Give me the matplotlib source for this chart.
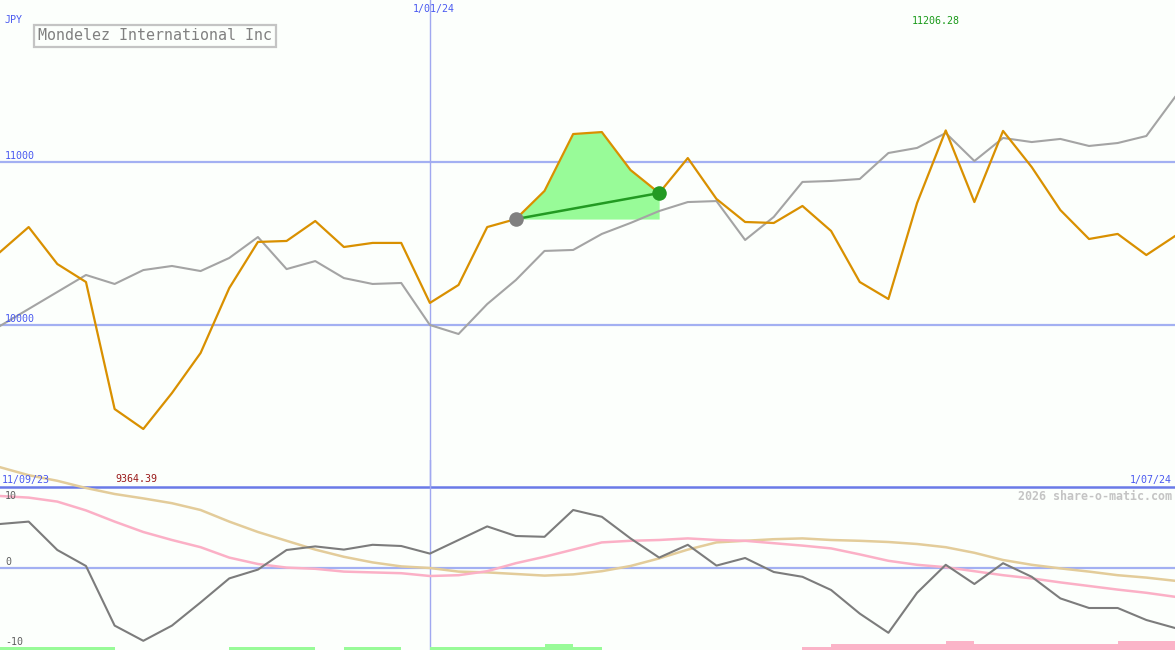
import matplotlib
matplotlib.use("Agg")
import matplotlib.pyplot as plt
import numpy as np

# ---------------- data ----------------
title = "Mondelez International Inc"
currency = "JPY"
start_label = "11/09/23"
mid_label = "1/01/24"
end_label = "1/07/24"
max_label = "11206.28"
min_label = "9364.39"
credit = "2026 share-o-matic.com"

price = [10446, 10599, 10373, 10263, 9486, 9364, 9584, 9829, 10226, 10508,
         10514, 10636, 10477, 10502, 10502, 10135, 10245, 10599, 10648, 10820,
         11168, 11180, 10948, 10807, 11021, 10771, 10630, 10624, 10728, 10575,
         10263, 10159, 10746, 11190, 10752, 11187, 10966, 10703, 10526, 10557,
         10428, 10544]

compare = [9994, 10098, 10202, 10306, 10251, 10336, 10361, 10330, 10410, 10538,
           10342, 10391, 10287, 10251, 10257, 10000, 9945, 10128, 10275, 10453,
           10459, 10557, 10624, 10697, 10752, 10758, 10520, 10661, 10875, 10881,
           10893, 11052, 11083, 11174, 11003, 11144, 11119, 11138, 11095, 11113,
           11156, 11394]

momentum = [5.5, 5.8, 2.25, 0.25, -7.2, -9.1, -7.2, -4.3, -1.3, -0.2,
            2.25, 2.7, 2.3, 2.9, 2.75, 1.8, 3.5, 5.2, 4.0, 3.9,
            7.25, 6.4, 3.7, 1.3, 2.9, 0.3, 1.25, -0.5, -1.1, -2.75,
            -5.7, -8.1, -3.1, 0.4, -2.0, 0.6, -1.1, -3.8, -5.0, -5.0,
            -6.5, -7.5]

signal_fast = [9.0, 8.8, 8.3, 7.2, 5.8, 4.5, 3.5, 2.6, 1.3, 0.5,
               0.05, -0.1, -0.45, -0.55, -0.65, -1.0, -0.9, -0.4, 0.6, 1.4,
               2.3, 3.2, 3.4, 3.5, 3.7, 3.5, 3.4, 3.1, 2.8, 2.45,
               1.7, 0.9, 0.4, 0.1, -0.4, -0.9, -1.3, -1.8, -2.25, -2.7,
               -3.1, -3.6]

signal_slow = [12.6, 11.6, 10.9, 10.0, 9.25, 8.7, 8.1, 7.25, 5.8, 4.5,
               3.4, 2.3, 1.4, 0.7, 0.2, 0.0, -0.45, -0.55, -0.75, -0.95,
               -0.8, -0.4, 0.25, 1.2, 2.3, 3.2, 3.4, 3.6, 3.7, 3.5,
               3.4, 3.25, 3.0, 2.6, 1.9, 1.0, 0.4, -0.05, -0.45, -0.9,
               -1.2, -1.6]

# trend strength bars (+ green, - pink), one per interval
trend = [1, 1, 1, 1, 0, 0, 0, 0, 1, 1,
         1, 0, 1, 1, 0, 1, 1, 1, 1, 2,
         1, 0, 0, 0, 0, 0, 0, 0, -1, -2,
         -2, -2, -2, -3, -2, -2, -2, -2, -2, -3,
         -3]

grid_levels = [10000, 11000]
osc_labels = ["10", "0", "-10"]
mid_index = 15
hl_start, hl_end = 18, 23

# ---------------- styling ----------------
W, H = 1175, 650
bg = "#fcfffc"
blue_txt = "#4a5af0"
grid_c = "#a3b0f2"
vline_c = "#a0a8f0"
fig = plt.figure(figsize=(W / 100, H / 100), dpi=100, facecolor=bg)

def fx(px):
    return px / W

def fy(py):
    return 1 - py / H

n = len(price)
x = np.arange(n)

# main panel: pixel rows 0..487
ax = fig.add_axes([0, fy(487), 1, 487 / H])
ax.set_facecolor(bg)
ax.set_xlim(0, n - 1)
ppu = 163.5 / 1000.0  # pixels per yen
ax.set_ylim(10000 - (487 - 325) / ppu, 10000 + 325 / ppu)
for s in ax.spines.values():
    s.set_visible(False)
ax.set_xticks([])
ax.set_yticks([])

for g in grid_levels:
    ax.axhline(g, color=grid_c, lw=1.6, zorder=1)
ax.axvline(mid_index, color=vline_c, lw=1.0, zorder=1)

xs = x[hl_start:hl_end + 1]
ps = np.array(price[hl_start:hl_end + 1])
ax.fill_between(xs, ps, price[hl_start], color="#98fb98", lw=0, zorder=2)

ax.plot(x, compare, color="#a4a4a4", lw=1.5, zorder=3)
ax.plot(x, price, color="#d99000", lw=1.6, zorder=4)
ax.plot([hl_start, hl_end], [price[hl_start], price[hl_end]], color="#229a22", lw=1.8, zorder=5)
ax.scatter([hl_start], [price[hl_start]], s=110, color="#808080", zorder=6, lw=0)
ax.scatter([hl_end], [price[hl_end]], s=110, color="#229a22", zorder=6, lw=0)

# oscillator panel: pixel rows 460..650, zero at row 568, 8 px per unit
ax2 = fig.add_axes([0, 0, 1, 190 / H])
ax2.patch.set_alpha(0)
ax2.set_xlim(0, n - 1)
upp = 1 / 8.0
ax2.set_ylim(-(650 - 568) * upp, (568 - 460) * upp)
for s in ax2.spines.values():
    s.set_visible(False)
ax2.set_xticks([])
ax2.set_yticks([])

ax2.axhline(0, color=grid_c, lw=1.6, zorder=1)
ax2.axhline((568 - 487) * upp, color="#6a7ae8", lw=1.8, zorder=1)
ax2.axvline(mid_index, color=vline_c, lw=1.0, zorder=1)

bottom = -(650 - 568) * upp
tv = np.array(trend)
bar_unit = 3 * upp
cols = ["#98fb98" if t > 0 else "#fbb4c8" for t in tv]
ax2.bar(np.arange(len(tv)) + 0.5, np.abs(tv) * bar_unit, width=1.0, bottom=bottom,
        color=cols, lw=0, zorder=2)

ax2.plot(x, signal_slow, color="#e3cc9a", lw=1.8, zorder=3)
ax2.plot(x, signal_fast, color="#fbb0c6", lw=1.8, zorder=3)
ax2.plot(x, momentum, color="#7c7c7c", lw=1.5, zorder=4)

# ---------------- text ----------------
mono = "DejaVu Sans Mono"
small = 7.2
fig.text(fx(5), fy(20), currency, color=blue_txt, fontsize=small, family=mono, va="center")
fig.text(fx(38), fy(36), title, color="#808080", fontsize=10.8, family=mono, va="center",
         bbox=dict(boxstyle="square,pad=0.25", fc=bg, ec="#c4c4c4", lw=1.6))
fig.text(fx(434), fy(9), mid_label, color=blue_txt, fontsize=small, family=mono, va="center", ha="center")
fig.text(fx(936), fy(21), max_label, color="#1a9a1a", fontsize=small, family=mono, va="center", ha="center")
fig.text(fx(5), fy(156), "11000", color=blue_txt, fontsize=small, family=mono, va="center")
fig.text(fx(5), fy(319), "10000", color=blue_txt, fontsize=small, family=mono, va="center")
fig.text(fx(2), fy(480), start_label, color=blue_txt, fontsize=small, family=mono, va="center")
fig.text(fx(115), fy(479), min_label, color="#9a1a1a", fontsize=small, family=mono, va="center")
fig.text(fx(1172), fy(480), end_label, color=blue_txt, fontsize=small, family=mono, va="center", ha="right")
fig.text(fx(1172), fy(496), credit, color="#c4c4c4", fontsize=8.4, family=mono, va="center",
         ha="right", fontweight="bold")
for lbl, py in zip(osc_labels, [496, 562, 642]):
    fig.text(fx(5), fy(py), lbl, color="#606060", fontsize=small, family=mono, va="center")

fig.savefig("out.png", dpi=100, facecolor=bg)
